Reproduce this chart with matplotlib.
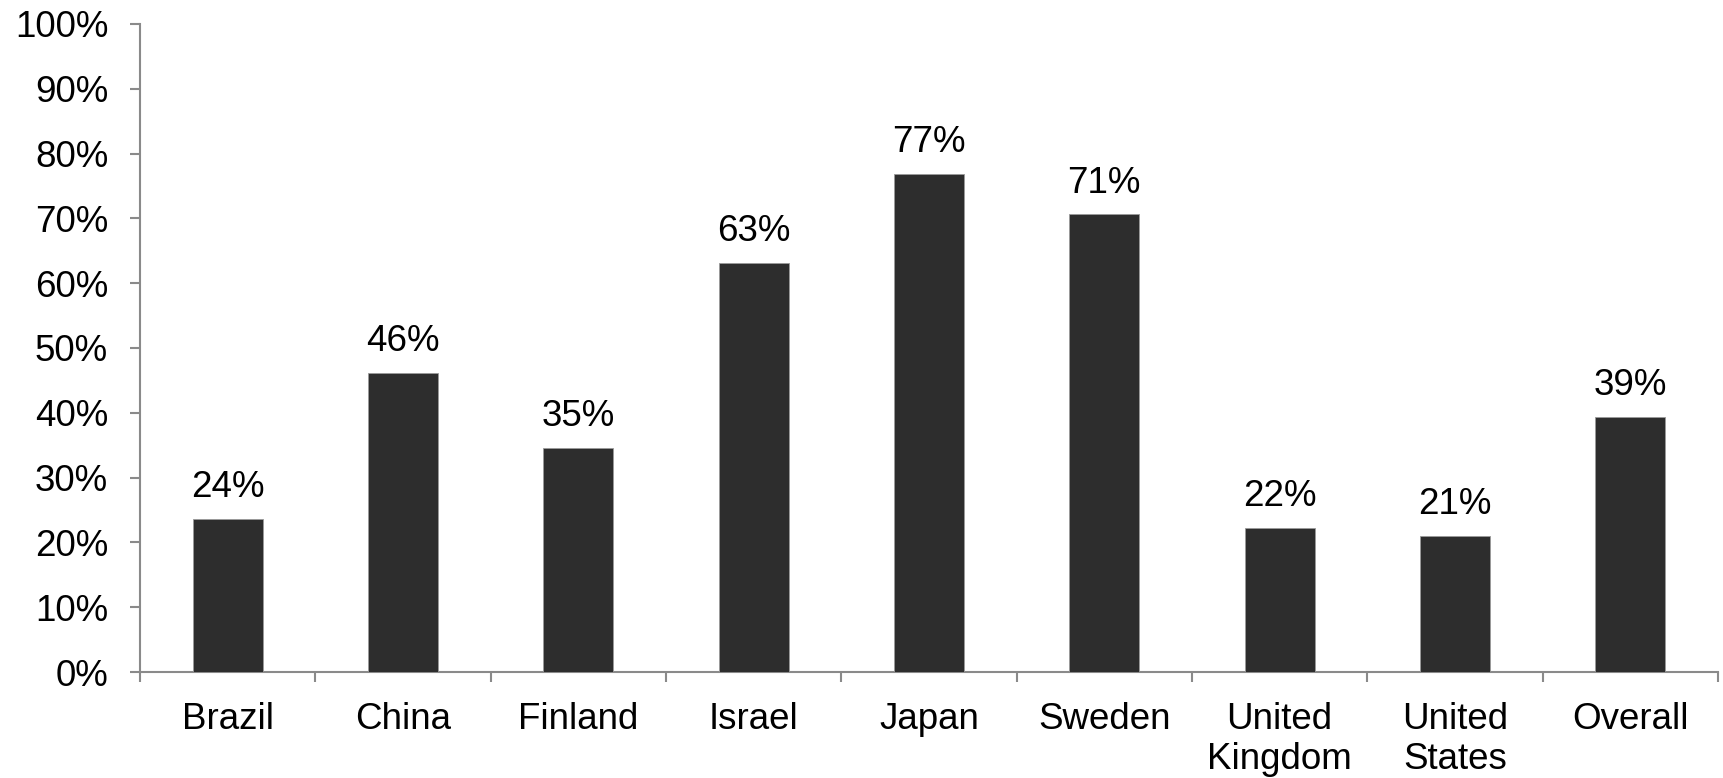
#!/usr/bin/env python3

import numpy as np
import matplotlib.pyplot as plt
from matplotlib.ticker import FuncFormatter, FixedLocator

categories = ['Brazil', 'China', 'Finland', 'Israel', 'Japan', 'Sweden',
              'United\nKingdom', 'United\nStates', 'Overall']
values = [23.6, 46.1, 34.6, 63.1, 76.9, 70.6, 22.2, 21.0, 39.4]
labels = ['24%', '46%', '35%', '63%', '77%', '71%', '22%', '21%', '39%']

plt.rcParams['font.family'] = ['Liberation Sans', 'DejaVu Sans']
axis_color = '#8a8a8a'

fig = plt.figure(figsize=(17.23, 7.78), dpi=100)
ax = fig.add_axes([0.0813, 0.1362, 0.9157, 0.8330])

x = np.arange(len(categories))
bars = ax.bar(x, values, width=0.4, color='#2d2d2d',
              edgecolor='#9a9a9a', linewidth=0.6, zorder=3)

for bar, lab in zip(bars, labels):
    ax.annotate(lab, (bar.get_x() + bar.get_width() / 2, bar.get_height()),
                xytext=(0, 10), textcoords='offset points',
                ha='center', va='bottom', fontsize=26.5, color='black')

ax.set_xlim(-0.5, len(categories) - 0.5)
ax.set_ylim(0, 100)
ax.set_yticks(np.arange(0, 101, 10))
ax.yaxis.set_major_formatter(FuncFormatter(lambda v, p: f'{v:.0f}%'))

ax.set_xticks(x)
ax.set_xticklabels(categories, fontsize=26.5, linespacing=1.2)
ax.xaxis.set_minor_locator(FixedLocator(np.arange(-0.5, len(categories), 1.0)))
ax.tick_params(axis='x', which='major', length=0, pad=21.5)
ax.tick_params(axis='x', which='minor', length=7, width=1.5,
               color=axis_color, direction='out')
ax.tick_params(axis='y', length=7, width=1.5, color=axis_color,
               direction='out', labelsize=26.5, pad=16)

for side in ['top', 'right']:
    ax.spines[side].set_visible(False)
for side in ['left', 'bottom']:
    ax.spines[side].set_color(axis_color)
    ax.spines[side].set_linewidth(1.5)

plt.savefig('out.png', dpi=100)
